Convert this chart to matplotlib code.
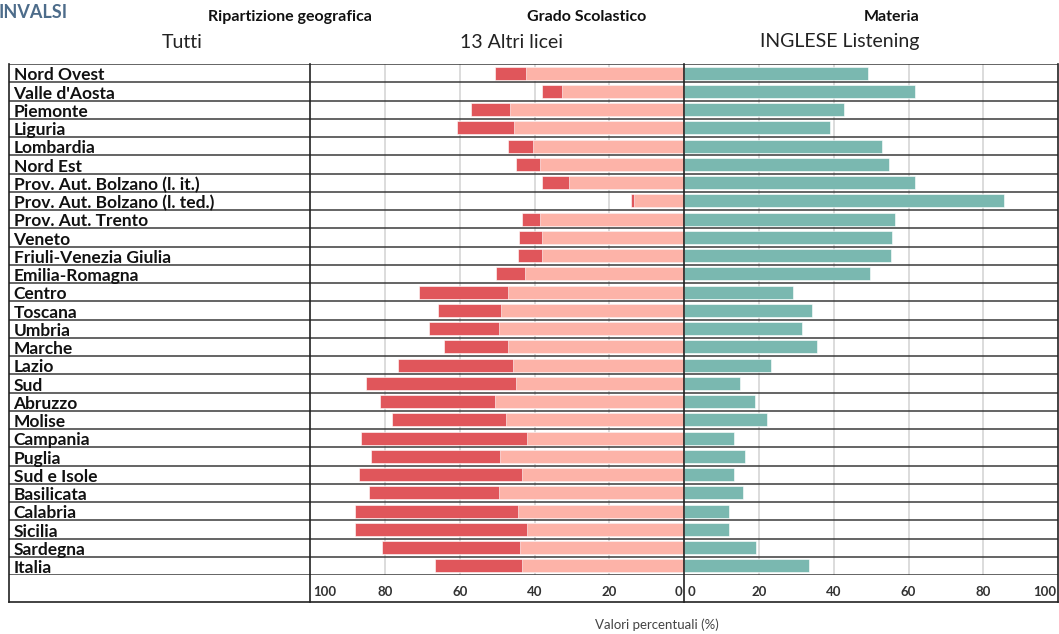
import matplotlib
matplotlib.use("Agg")
import matplotlib.pyplot as plt
import matplotlib.transforms as mtransforms
from matplotlib.lines import Line2D

plt.rcParams['font.family'] = ['Lato', 'DejaVu Sans']

regioni = ["Nord Ovest", "Valle d'Aosta", "Piemonte", "Liguria", "Lombardia", "Nord Est",
           "Prov. Aut. Bolzano (l. it.)", "Prov. Aut. Bolzano (l. ted.)", "Prov. Aut. Trento",
           "Veneto", "Friuli-Venezia Giulia", "Emilia-Romagna", "Centro", "Toscana", "Umbria",
           "Marche", "Lazio", "Sud", "Abruzzo", "Molise", "Campania", "Puglia", "Sud e Isole",
           "Basilicata", "Calabria", "Sicilia", "Sardegna", "Italia"]

# livello 2 (rosa, dallo zero) e livelli 1+2 cumulati (rosso)
liv_rosa = [42.3, 32.8, 46.7, 45.5, 40.4, 38.6, 30.8, 13.4, 38.6, 38.0, 37.9, 42.6, 47.1, 48.9,
            49.6, 47.0, 45.7, 44.9, 50.7, 47.7, 41.9, 49.3, 43.4, 49.5, 44.5, 42.1, 43.9, 43.4]
liv_totale = [50.7, 38.1, 57.0, 60.8, 47.0, 44.9, 38.1, 14.3, 43.4, 44.2, 44.5, 50.2, 70.9, 65.9,
              68.3, 64.3, 76.6, 85.0, 81.3, 78.0, 86.5, 83.8, 86.9, 84.3, 88.0, 88.0, 80.7, 66.6]
# livelli B1/B2 (verde)
liv_verde = [49.1, 61.7, 42.8, 39.1, 52.8, 54.9, 61.7, 85.5, 56.5, 55.7, 55.4, 49.6, 29.0, 34.1,
             31.6, 35.6, 23.2, 14.9, 18.8, 22.0, 13.4, 16.2, 13.3, 15.7, 11.9, 11.9, 19.2, 33.3]

ticks = [0, 20, 40, 60, 80, 100]

W, H = 1059, 634
fig = plt.figure(figsize=(W / 100, H / 100), dpi=100)


def fx(px):
    return px / W


def fy(py):
    return 1 - py / H


top, bot, band = 64, 575, 602
x_lab, x_left, x_mid, x_right = 9, 310, 684.3, 1058

ax_lab = fig.add_axes([fx(x_lab), fy(bot), fx(x_left - x_lab), fy(top) - fy(bot)])
ax_l = fig.add_axes([fx(x_left), fy(bot), fx(x_mid - x_left), fy(top) - fy(bot)])
ax_r = fig.add_axes([fx(x_mid), fy(bot), fx(x_right - x_mid), fy(top) - fy(bot)])

n = len(regioni)
pos = list(range(n))

for ax in (ax_lab, ax_l, ax_r):
    ax.set_ylim(n - 0.5, -0.5)
    for s in ax.spines.values():
        s.set_visible(False)
    for i in range(n + 1):
        ax.axhline(i - 0.5, color='#3a3a3a', lw=1.1, zorder=3)
    ax.tick_params(left=False, labelleft=False)

ax_lab.set_xlim(0, 1)
ax_lab.set_xticks([])
for i, r in enumerate(regioni):
    ax_lab.text(0.015, i + 0.12, r, va='center', ha='left', fontsize=12.5, fontweight='bold',
                color='#111111')

ax_l.barh(pos, liv_totale, height=0.72, color='#e0565b', edgecolor='white', lw=0.4, zorder=2)
ax_l.barh(pos, liv_rosa, height=0.72, color='#fdb3a8', edgecolor='white', lw=0.4, zorder=2)
ax_l.set_xlim(100, 0)
ax_r.barh(pos, liv_verde, height=0.72, color='#7ab8b0', edgecolor='white', lw=0.4, zorder=2)
ax_r.set_xlim(0, 100)

for ax in (ax_l, ax_r):
    for t in [20, 40, 60, 80]:
        ax.axvline(t, color='#dcdcdc', lw=1.4, zorder=0)
    ax.set_xticks(ticks)
    ax.set_xticklabels([str(t) for t in ticks], fontsize=9.5, fontweight='bold', color='#333333')
    ax.tick_params(axis='x', length=0, pad=8)


def shift(lab, dx):
    off = mtransforms.ScaledTranslation(dx / 100, 0, fig.dpi_scale_trans)
    lab.set_transform(lab.get_transform() + off)


lab_l = ax_l.get_xticklabels()
lab_l[0].set_ha('right')
shift(lab_l[0], -2)
lab_l[-1].set_ha('left')
shift(lab_l[-1], 3)
lab_r = ax_r.get_xticklabels()
lab_r[0].set_ha('left')
shift(lab_r[0], 3)
lab_r[-1].set_ha('right')
shift(lab_r[-1], -2)

# cornice e linee verticali
lc = '#222222'
for (x0, y0, x1, y1) in [(x_lab, top, x_lab, band), (x_left, top, x_left, band),
                         (x_mid, top, x_mid, band), (x_right, top, x_right, band),
                         (x_lab, band, x_right, band)]:
    fig.add_artist(Line2D([fx(x0), fx(x1)], [fy(y0), fy(y1)], color=lc, lw=1.2))

fig.text(fx(657), fy(625), "Valori percentuali (%)", ha='center', va='center', fontsize=9.5,
         color='#444444')

# intestazione
fig.text(fx(-2), fy(13), "INVALSI", ha='left', va='center', fontsize=13, fontweight='bold',
         color='#4d6c8a')
heads = [("Ripartizione geografica", 290, "Tutti", 162),
         ("Grado Scolastico", 587, "13 Altri licei", 460),
         ("Materia", 892, "INGLESE Listening", 760)]
for h, hx, v, vx in heads:
    fig.text(fx(hx), fy(17), h, ha='center', va='center', fontsize=11.5, fontweight='bold',
             color='#111111')
    fig.text(fx(vx), fy(42), v, ha='left', va='center', fontsize=14, color='#222222')

fig.savefig("out.png", dpi=100)
